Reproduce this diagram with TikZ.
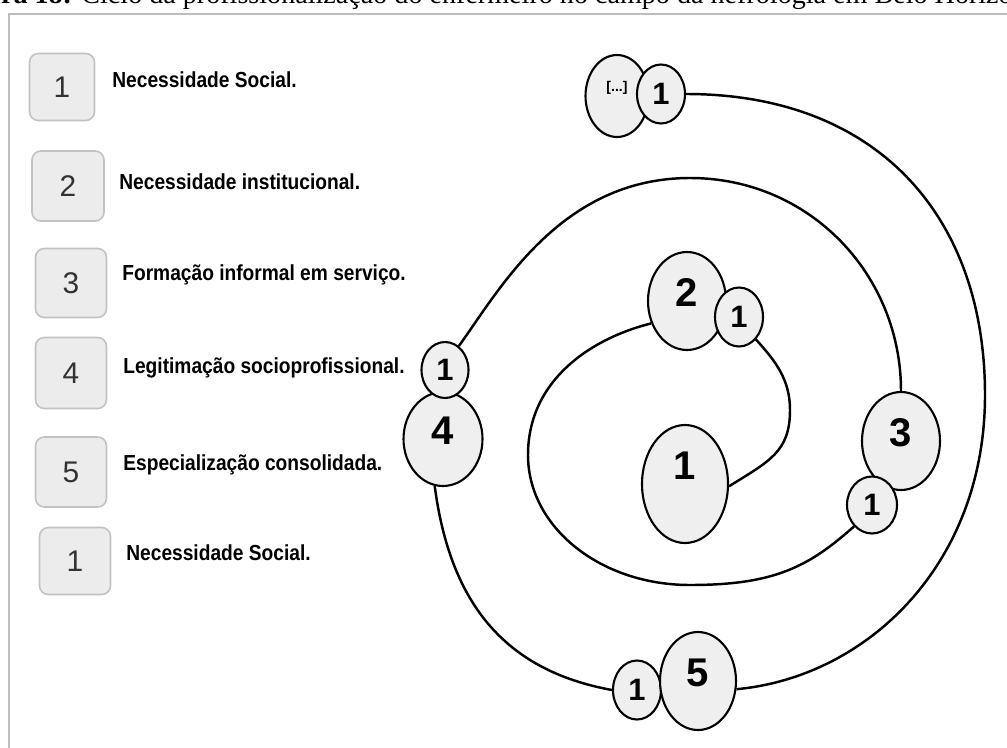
\documentclass[tikz,border=0pt]{standalone}
\usepackage{fontspec}
\setmainfont{Liberation Serif}
\newfontfamily\sansnum{Liberation Sans}
\newfontfamily\lblfont[FakeStretch=0.88]{Liberation Sans}
\usetikzlibrary{shapes.geometric,positioning}
\definecolor{boxgray}{HTML}{ECECEC}
\definecolor{boxline}{HTML}{C2C2C2}
\definecolor{ballgray}{HTML}{EFEFEF}
\definecolor{framegray}{HTML}{BDBDBD}

\begin{document}
\begin{tikzpicture}
		[x=0.02cm,y=-0.02cm,
		num box/.style={draw=boxline,fill=boxgray,line width=0.9pt,rounded corners=5pt,minimum width=1.42cm,minimum height=1.38cm,inner sep=0pt,font=\sansnum\fontsize{17}{18}\selectfont,text=black!80},
		item/.style={anchor=base west,inner sep=0pt,font=\lblfont\bfseries\fontsize{12.4}{14}\selectfont},
		big node/.style={ellipse,draw,fill=ballgray,line width=1.2pt,inner sep=0pt,minimum width=1.56cm,minimum height=1.96cm,font=\sansnum\bfseries\fontsize{22.8}{24}\selectfont,text height=16.3pt,text depth=10.2pt},
		small node/.style={ellipse,draw,fill=ballgray,line width=1.2pt,inner sep=0pt,minimum width=0.96cm,minimum height=1.18cm,font=\sansnum\bfseries\fontsize{17.6}{19}\selectfont},
		spiral/.style={line width=1.4pt}]
		\path[use as bounding box,clip] (0,0) rectangle (1007,747);
		
		\node[anchor=base west,inner sep=0pt,font=\fontsize{16}{18}\selectfont] (cap) at (-54,4) {\textbf{Figura 18:} Ciclo da profissionalização do enfermeiro no campo da nefrologia em Belo Horizonte};
		\draw[framegray,line width=1.1pt] (1012,14) -| (9,752);
		
		\node[num box,minimum width=1.3cm,minimum height=1.34cm] (b1) at (62,87) {1};
		\node[num box,minimum width=1.44cm,minimum height=1.4cm] (b2) at (68,186) {2};
		\node[num box] (b3) at (71,283) {3};
		\node[num box,minimum height=1.42cm] (b4) at (71,373) {4};
		\node[num box,minimum height=1.4cm] (b5) at (71,472) {5};
		\node[num box,minimum height=1.34cm] (b6) at (75,561) {1};
		
		\node[item] (l1) at (112,87) {Necessidade Social.};
		\node[item] (l2) at (119,189) {Necessidade institucional.};
		\node[item] (l3) at (122,280) {Formação informal em serviço.};
		\node[item] (l4) at (123,373) {Legitimação socioprofissional.};
		\node[item] (l5) at (123,470) {Especialização consolidada.};
		\node[item] (l6) at (126,560) {Necessidade Social.};
		
		\node[big node,minimum width=1.26cm,minimum height=1.64cm,font=\sansnum\bfseries\fontsize{8}{9}\selectfont,text height=5.5pt,text depth=10.5pt] (dots) at (617,96) {[...]};
		\node[small node] (t0) at (661,94) {1};
		\node[big node] (e2) at (687,301) {2};
		\node[small node] (t2) at (739,317) {1};
		\node[big node,minimum width=1.58cm,minimum height=1.88cm] (e4) at (443,439) {4};
		\node[small node,minimum width=0.94cm,minimum height=1.12cm] (t4) at (445,370) {1};
		\node[big node] (e3) at (901,441) {3};
		\node[small node,minimum width=1cm,minimum height=1.14cm] (t3) at (872,505) {1};
		\node[small node] (t5) at (637,690) {1};
		\node[big node,minimum width=1.52cm] (e5) at (698,681) {5};
		\node[big node,minimum width=1.72cm,minimum height=2.36cm,text depth=21.6pt] (e1) at (685,484) {1};
		
		\coordinate (rb) at (985,395);
		\coordinate (tm) at (690,178);
		\coordinate (ib) at (690,585);
		\coordinate (il) at (528,455);
		\coordinate (ir) at (790,410);
		
		\draw[spiral] (t0.east) .. controls +(190,0) and +(0,-180) .. (rb) .. controls +(0,170) and +(130,-12) .. (e5.-12);
		\draw[spiral] (t5.west) .. controls +(-110,-20) and +(15,114) .. (e4.-100);
		\draw[spiral] (t4.60) .. controls +(40,-55) and +(-130,0) .. (tm) .. controls +(120,0) and +(0,-116) .. (e3.north);
		\draw[spiral] (t3.-130) .. controls +(-45,40) and +(85,0) .. (ib) .. controls +(-90,0) and +(0,72) .. (il) .. controls +(0,-75) and +(-60,15) .. (e2.-148);
		\draw[spiral] (t2.-53) .. controls +(20,22) and +(0,-30) .. (ir) .. controls +(0,42) and +(40,-25) .. (e1.-3);
\end{tikzpicture}
\end{document}
